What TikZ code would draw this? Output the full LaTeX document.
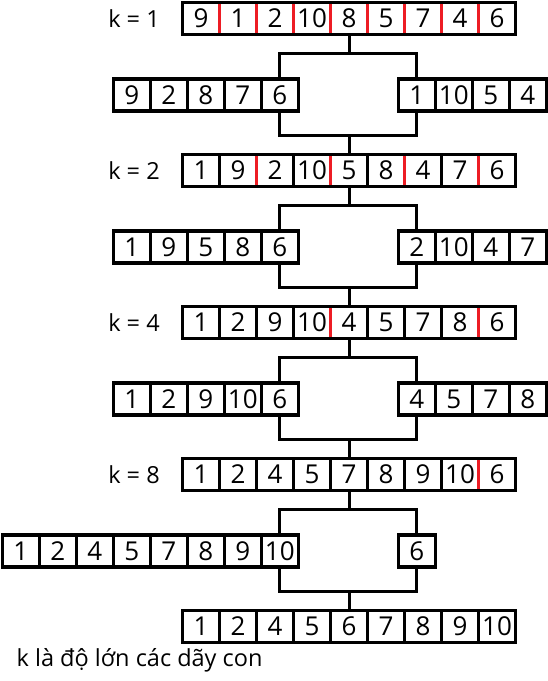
\documentclass[tikz,border=0pt]{standalone}
\usepackage{fontspec}
\setmainfont{Open Sans}
\definecolor{cutred}{RGB}{237,28,36}
\begin{document}
\begin{tikzpicture}[x=1pt, y=-1pt,
    cell/.style = {draw, line width=2.4pt, minimum width=37pt, minimum height=32pt, inner sep=0pt, outer sep=0pt, font=\fontsize{26}{30}\selectfont},
    frame/.style = {draw, line width=3.2pt},
    cut/.style = {draw=cutred, line width=2.6pt},
    link/.style = {draw, line width=3pt},
    klabel/.style = {font=\fontsize{23.5}{28}\selectfont}]
    \useasboundingbox (0,0) rectangle (548,681);

    % k = 1
    \node[klabel] (k1) at (134,18.5) {k = 1};
    \foreach \v [count=\i] in {9,1,2,10,8,5,7,4,6}
        \node[cell] (m1-\i) at (164+37*\i,18.5) {\v};
    \foreach \i in {1,...,8}
        \draw[cut] (m1-\i.north east) -- (m1-\i.south east);
    \draw[frame] (m1-1.north west) rectangle (m1-9.south east);

    \foreach \v [count=\i] in {9,2,8,7,6}
        \node[cell] (l1-\i) at (94.8+37*\i,95) {\v};
    \draw[frame] (l1-1.north west) rectangle (l1-5.south east);
    \foreach \v [count=\i] in {1,10,5,4}
        \node[cell] (r1-\i) at (379.8+37*\i,95) {\v};
    \draw[frame] (r1-1.north west) rectangle (r1-4.south east);

    % k = 2
    \node[klabel] (k2) at (134,170.5) {k = 2};
    \foreach \v [count=\i] in {1,9,2,10,5,8,4,7,6}
        \node[cell] (m2-\i) at (164+37*\i,170.5) {\v};
    \foreach \i in {2,4,6,8}
        \draw[cut] (m2-\i.north east) -- (m2-\i.south east);
    \draw[frame] (m2-1.north west) rectangle (m2-9.south east);

    \foreach \v [count=\i] in {1,9,5,8,6}
        \node[cell] (l2-\i) at (94.8+37*\i,247) {\v};
    \draw[frame] (l2-1.north west) rectangle (l2-5.south east);
    \foreach \v [count=\i] in {2,10,4,7}
        \node[cell] (r2-\i) at (379.8+37*\i,247) {\v};
    \draw[frame] (r2-1.north west) rectangle (r2-4.south east);

    % k = 4
    \node[klabel] (k3) at (134,322.5) {k = 4};
    \foreach \v [count=\i] in {1,2,9,10,4,5,7,8,6}
        \node[cell] (m3-\i) at (164+37*\i,322.5) {\v};
    \foreach \i in {4,8}
        \draw[cut] (m3-\i.north east) -- (m3-\i.south east);
    \draw[frame] (m3-1.north west) rectangle (m3-9.south east);

    \foreach \v [count=\i] in {1,2,9,10,6}
        \node[cell] (l3-\i) at (94.8+37*\i,399) {\v};
    \draw[frame] (l3-1.north west) rectangle (l3-5.south east);
    \foreach \v [count=\i] in {4,5,7,8}
        \node[cell] (r3-\i) at (379.8+37*\i,399) {\v};
    \draw[frame] (r3-1.north west) rectangle (r3-4.south east);

    % k = 8
    \node[klabel] (k4) at (134,474.5) {k = 8};
    \foreach \v [count=\i] in {1,2,4,5,7,8,9,10,6}
        \node[cell] (m4-\i) at (164+37*\i,474.5) {\v};
    \draw[cut] (m4-8.north east) -- (m4-8.south east);
    \draw[frame] (m4-1.north west) rectangle (m4-9.south east);

    \foreach \v [count=\i] in {1,2,4,5,7,8,9,10}
        \node[cell] (l4-\i) at (-16.2+37*\i,551) {\v};
    \draw[frame] (l4-1.north west) rectangle (l4-8.south east);
    \node[cell] (r4-1) at (416.8,551) {6};
    \draw[frame] (r4-1.north west) rectangle (r4-1.south east);

    % ket qua
    \foreach \v [count=\i] in {1,2,4,5,6,7,8,9,10}
        \node[cell] (m5-\i) at (164+37*\i,626.5) {\v};
    \draw[frame] (m5-1.north west) rectangle (m5-9.south east);

    % chia va tron
    \coordinate (s1) at (349,53);
    \coordinate (j1) at (349,135);
    \draw[link] (m1-5.south) -- (s1) -| (l1-5.north);
    \draw[link] (s1) -| (r1-1.north);
    \draw[link] (l1-5.south) |- (j1) -| (r1-1.south);
    \draw[link] (j1) -- (m2-5.north);

    \coordinate (s2) at (349,205);
    \coordinate (j2) at (349,287);
    \draw[link] (m2-5.south) -- (s2) -| (l2-5.north);
    \draw[link] (s2) -| (r2-1.north);
    \draw[link] (l2-5.south) |- (j2) -| (r2-1.south);
    \draw[link] (j2) -- (m3-5.north);

    \coordinate (s3) at (349,357);
    \coordinate (j3) at (349,439);
    \draw[link] (m3-5.south) -- (s3) -| (l3-5.north);
    \draw[link] (s3) -| (r3-1.north);
    \draw[link] (l3-5.south) |- (j3) -| (r3-1.south);
    \draw[link] (j3) -- (m4-5.north);

    \coordinate (s4) at (349,509);
    \coordinate (j4) at (349,591);
    \draw[link] (m4-5.south) -- (s4) -| (l4-8.north);
    \draw[link] (s4) -| (r4-1.north);
    \draw[link] (l4-8.south) |- (j4) -| (r4-1.south);
    \draw[link] (j4) -- (m5-5.north);

    \node[klabel, anchor=west, inner sep=0pt] (note) at (16.5,660) {k là độ lớn các dãy con};
\end{tikzpicture}
\end{document}
